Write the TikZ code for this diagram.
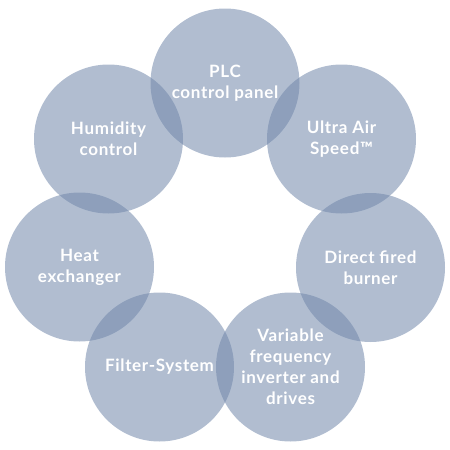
\documentclass[tikz,border=0pt]{standalone}
\usepackage{fontspec}
\setmainfont{Lato}[LetterSpace=4]
\definecolor{circ}{RGB}{113,135,170}
\begin{document}
\begin{tikzpicture}[x=1pt,y=-1pt,
  bub/.style={circle, fill=circ, fill opacity=0.55, minimum size=149pt, inner sep=0pt},
  lbl/.style={text=white, font=\fontsize{17}{21}\selectfont\bfseries, align=center}]
\useasboundingbox (0,0) rectangle (450,450);
\foreach \n/\x/\y in {plc/225/83, ultra/341.5/139, direct/370.5/267.5, var/290.5/367, filt/159.5/367, heat/79.5/267, hum/108.5/139}
  \node[bub] (\n) at (\x,\y) {};
\node[lbl] (tplc) at (plc.center) {PLC\\control panel};
\node[lbl] (tultra) at (ultra.center) {Ultra Air\\Speed™};
\node[lbl] (tdirect) at (direct.center) {Direct fired\\burner};
\node[lbl] (tvar) at (var.center) {Variable\\frequency\\inverter and\\drives};
\node[lbl] (tfilt) at (filt.center) {Filter-System};
\node[lbl] (theat) at (heat.center) {Heat\\exchanger};
\node[lbl] (thum) at (hum.center) {Humidity\\control};
\end{tikzpicture}
\end{document}
